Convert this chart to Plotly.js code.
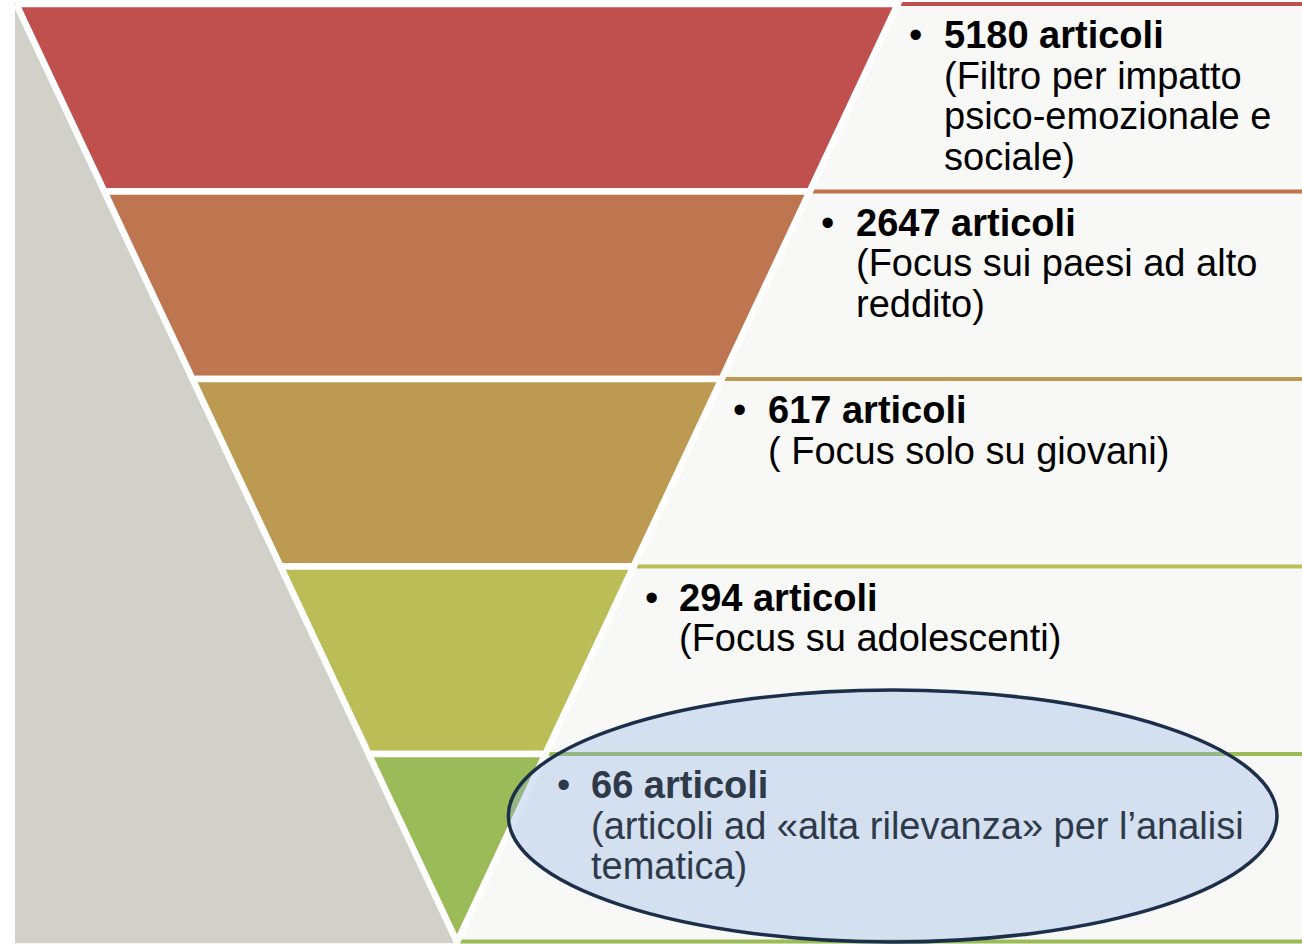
<!DOCTYPE html>
<html><head><meta charset="utf-8">
<script src="https://cdn.plot.ly/plotly-3.0.1.min.js"></script>
<style>html,body{margin:0;padding:0;background:#fff}#chart{width:1302px;height:944px}</style>
</head><body><div id="chart"></div>
<script>
// ---- data ----
const stageCounts = [5180, 2647, 617, 294, 66];
const countUnit = "articoli";
const stageNotes = [
  ["(Filtro per impatto", "psico-emozionale e", "sociale)"],
  ["(Focus sui paesi ad alto", "reddito)"],
  ["( Focus solo su giovani)"],
  ["(Focus su adolescenti)"],
  ["(articoli ad «alta rilevanza» per l’analisi", "tematica)"]
];
const highlightStage = 4;

// ---- style ----
const bandColors = ["#C0504D", "#BE7650", "#BC9A51", "#BBBD57", "#9BBB59"];
const lineColors = ["#C0504D", "#BE7650", "#BC9A51", "#BBBD57", "#9BBB59", "#9BBB59"];
const grayColor = "#D1D1CA";
const lightColor = "#F8F8F6";
const FONT = "Liberation Sans, Arial, sans-serif";
const FS = 38;

// ---- layout geometry ----
const W = 1302, H = 944;
const frameLeft = 15, frameTop = 3;
const rowTop0 = 4, rowH = 187.5;
const apexX = 457, apexY = 942, slope = 0.4699;
const n = stageCounts.length;
const B = [];
for (let i = 0; i <= n; i++) B.push(rowTop0 + i * rowH);
const half = y => (apexY - y) * slope;
const xl = y => apexX - half(y);
const xr = y => apexX + half(y);

const traces = [];
// light background
traces.push({x:[frameLeft, W, W, frameLeft, frameLeft], y:[frameTop, frameTop, H, H, frameTop],
  mode:'lines', fill:'toself', fillcolor:lightColor, line:{width:0, color:lightColor}, hoverinfo:'skip'});
// gray left triangle
traces.push({x:[frameLeft, xl(frameTop), apexX, frameLeft, frameLeft], y:[frameTop, frameTop, apexY + 1, apexY + 1, frameTop],
  mode:'lines', fill:'toself', fillcolor:grayColor, line:{width:0, color:grayColor}, hoverinfo:'skip'});
// row separator lines
for (let i = 0; i <= n; i++) {
  const y = i === n ? apexY - 0.5 : B[i];
  traces.push({x:[xr(y) + 3, W], y:[y, y], mode:'lines', line:{color:lineColors[i], width:4}, hoverinfo:'skip'});
}
// funnel bands
for (let i = 0; i < n; i++) {
  const yt = B[i];
  if (i === n - 1) {
    traces.push({x:[xl(yt), xr(yt), apexX, xl(yt)], y:[yt, yt, apexY, yt],
      mode:'lines', fill:'toself', fillcolor:bandColors[i], line:{color:'#FFFFFF', width:6.5}, hoverinfo:'skip'});
  } else {
    const yb = B[i + 1];
    traces.push({x:[xl(yt), xr(yt), xr(yb), xl(yb), xl(yt)], y:[yt, yt, yb, yb, yt],
      mode:'lines', fill:'toself', fillcolor:bandColors[i], line:{color:'#FFFFFF', width:6.5}, hoverinfo:'skip'});
  }
}

// text annotations
const annotations = [];
for (let i = 0; i < n; i++) {
  const color = i === highlightStage ? 'rgb(46,58,74)' : '#000000';
  const x0 = xr(B[i]) + 44;
  const y0 = B[i] + 31;
  annotations.push({x: xr(B[i]) + 18, y: y0, xref:'x', yref:'y', text:'•', showarrow:false,
    xanchor:'center', yanchor:'middle', font:{family:FONT, size:FS, color:color}});
  annotations.push({x: x0, y: y0, xref:'x', yref:'y', text:'<b>' + stageCounts[i] + ' ' + countUnit + '</b>', showarrow:false,
    xanchor:'left', yanchor:'middle', font:{family:FONT, size:FS, color:color}});
  stageNotes[i].forEach((t, k) => {
    annotations.push({x: x0, y: y0 + 40.5 * (k + 1), xref:'x', yref:'y', text:t, showarrow:false,
      xanchor:'left', yanchor:'middle', font:{family:FONT, size:FS, color:color}});
  });
}

// highlight ellipse around the last stage
const hy = B[highlightStage];
const shapes = [{type:'circle', xref:'x', yref:'y', x0: xr(hy) - 37, x1: 1277, y0: hy - 64, y1: apexY,
  fillcolor:'rgba(141,177,226,0.33)', line:{color:'#1C2F4A', width:3.5}, layer:'above'}];

const layout = {
  width:W, height:H, margin:{l:0, r:0, t:0, b:0}, showlegend:false,
  paper_bgcolor:'#FFFFFF', plot_bgcolor:'#FFFFFF',
  xaxis:{range:[0, W], visible:false, fixedrange:true},
  yaxis:{range:[H, 0], visible:false, fixedrange:true},
  annotations: annotations, shapes: shapes
};
Plotly.newPlot('chart', traces, layout, {staticPlot:true, displayModeBar:false});
</script>
</body></html>
